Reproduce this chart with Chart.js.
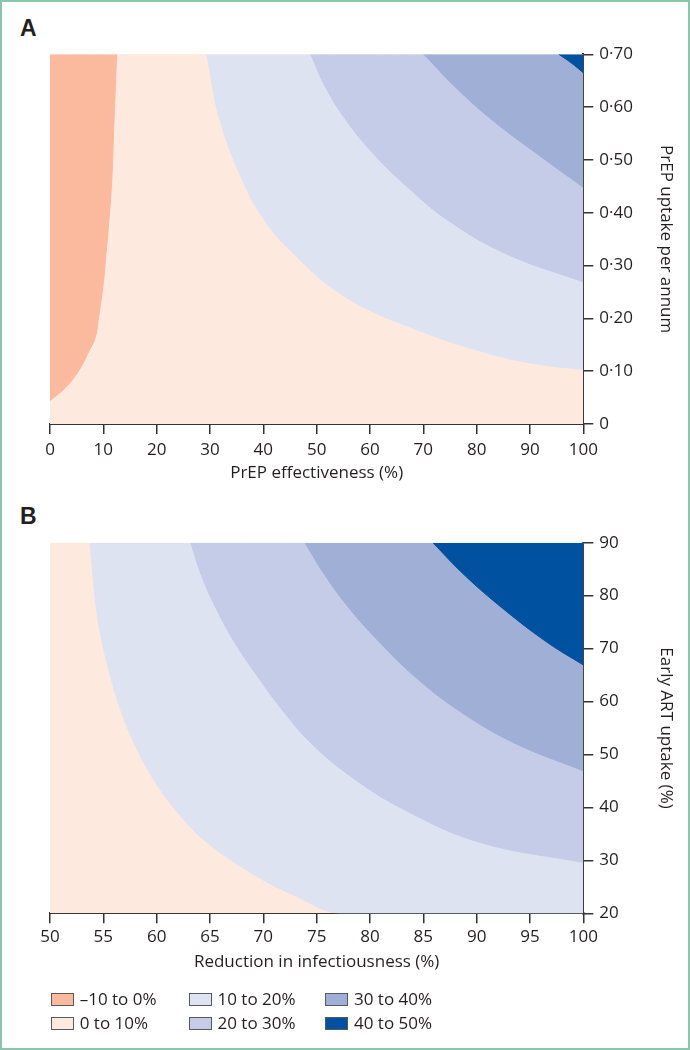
<!DOCTYPE html>
<html>
<head>
<meta charset="utf-8">
<script src="https://cdn.jsdelivr.net/npm/chart.js@4.4.1/dist/chart.umd.min.js"></script>
<style>
  body { margin: 0; background: #fff; }
  #page { position: relative; width: 690px; height: 1050px; overflow: hidden; font-family: 'Open Sans', sans-serif; color: #231f20; }
  #frame { position: absolute; left: 0; top: 0; width: 690px; height: 1050px; box-sizing: border-box; border: 2px solid #8cc4ad; pointer-events: none; }
  canvas { position: absolute; left: 0; }
  .panel { position: absolute; left: 20px; font: bold 23px 'Liberation Sans', Arial, sans-serif; line-height: 23px; }
  .key { position: absolute; width: 21px; height: 11px; border: 1px solid #58595b; }
  .keytxt { position: absolute; font-size: 17px; line-height: 20px; white-space: nowrap; }
</style>
</head>
<body>
<div id="page">
  <div class="panel" style="top:17px">A</div>
  <canvas id="chartA" width="690" height="500" style="top:0"></canvas>
  <div class="panel" style="top:505px">B</div>
  <canvas id="chartB" width="690" height="500" style="top:488px"></canvas>
  <div id="legend"></div>
  <div id="frame"></div>
</div>
<script>
// Panel A: PrEP effectiveness (%) vs PrEP uptake per annum
const aXTicks = [0, 10, 20, 30, 40, 50, 60, 70, 80, 90, 100];
const aYTicks = [0, 0.1, 0.2, 0.3, 0.4, 0.5, 0.6, 0.7];
const aYTickLabels = ['0', '0·10', '0·20', '0·30', '0·40', '0·50', '0·60', '0·70'];
// contour edges as [effectiveness, uptake]; region above/right of each edge is the next band
const aEdgeNeg = [[0, 0.044], [2.9, 0.069], [5.4, 0.101], [7.0, 0.132], [8.5, 0.164], [9.0, 0.195],
                  [9.9, 0.259], [10.5, 0.322], [11.5, 0.448], [12.0, 0.574], [12.5, 0.70]];
const aEdge10 = [[29.4, 0.70], [31.9, 0.574], [36.7, 0.448], [40.3, 0.385], [45, 0.329], [55.3, 0.241],
                 [69.7, 0.175], [82.8, 0.132], [91, 0.114], [100, 0.103]];
const aEdge20 = [[48.9, 0.70], [51.7, 0.637], [55.6, 0.574], [60.7, 0.511], [67.1, 0.448], [74.7, 0.385],
                 [85.6, 0.322], [100, 0.269]];
const aEdge30 = [[70.1, 0.70], [76.1, 0.637], [83.1, 0.574], [91.4, 0.511], [100, 0.448]];
const aEdge40 = [[95.4, 0.70], [97.7, 0.684], [100, 0.665]];

// Panel B: Reduction in infectiousness (%) vs Early ART uptake (%)
const bXTicks = [50, 55, 60, 65, 70, 75, 80, 85, 90, 95, 100];
const bYTicks = [20, 30, 40, 50, 60, 70, 80, 90];
const bEdge10 = [[53.75, 90], [54.35, 77.5], [54.9, 71.2], [55.65, 64.9], [56.6, 58.6], [57.85, 52.3], [59.5, 46],
                 [61.7, 39.7], [64.7, 33.4], [69.3, 27.1], [73.0, 23.3], [77.2, 20], [100, 20]];
const bEdge20 = [[63.2, 90], [64.2, 83.8], [65.6, 77.5], [67.3, 71.2], [69.4, 64.9], [71.7, 58.6], [74.4, 52.3],
                 [78.1, 46], [83.1, 39.7], [90.3, 33.4], [100, 29.6]];
const bEdge30 = [[73.9, 90], [75.8, 83.8], [78.1, 77.5], [80.9, 71.2], [84.1, 64.9], [88.1, 58.6], [93.4, 52.3],
                 [100, 46.9]];
const bEdge40 = [[85.9, 90], [88.9, 83.8], [92.5, 77.5], [96.6, 71.2], [100, 66.9]];

const bands = ['–10 to 0%', '0 to 10%', '10 to 20%', '20 to 30%', '30 to 40%', '40 to 50%'];
const bandColors = ['#fbb99e', '#fee9de', '#dee3f2', '#c5cce7', '#a0afd6', '#0052a0'];

const ink = '#231f20';
const axisFont = { family: "'Open Sans', sans-serif", size: 17 };

// one filled band; higher "order" is painted first (underneath)
function band(edge, idx, fill, order) {
  return {
    data: edge.map(p => ({ x: p[0], y: p[1] })),
    backgroundColor: bandColors[idx],
    borderColor: bandColors[idx],
    borderWidth: 1,
    pointRadius: 0,
    fill: fill,
    order: order,
    tension: 0.4,
    clip: 0
  };
}

function contourChart(id, c) {
  const xMin = c.xTicks[0], xMax = c.xTicks[c.xTicks.length - 1];
  // whole plot in the 0-10% colour first
  const datasets = [band([[xMin, c.yMax], [xMax, c.yMax]], 1, 'start', 20)];
  c.edges.forEach(e => datasets.push(band(e[0], e[1], 'end', 10 - e[1])));
  return new Chart(document.getElementById(id), {
    type: 'line',
    data: { datasets },
    options: {
      responsive: false,
      animation: false,
      layout: { padding: { left: 50, top: c.padTop, right: 0, bottom: 0 } },
      plugins: { legend: { display: false }, tooltip: { enabled: false } },
      scales: {
        x: {
          type: 'linear', min: xMin, max: xMax,
          afterBuildTicks: s => { s.ticks = c.xTicks.map(v => ({ value: v })); },
          afterFit: s => { s.height = c.axisH; },
          ticks: { font: axisFont, color: ink, padding: c.xPad, maxRotation: 0, autoSkip: false },
          grid: { drawOnChartArea: false, tickLength: 10, color: '#333', lineWidth: 1.5 },
          border: { color: '#333', width: 2 },
          title: { display: true, text: c.xTitle, font: axisFont, color: ink, padding: { top: 0, bottom: c.titlePad } }
        },
        y: {
          type: 'linear', position: 'right', min: c.yTicks[0], max: c.yMax,
          afterBuildTicks: s => { s.ticks = c.yTicks.map(v => ({ value: v })); },
          afterFit: s => { s.width = 106.7; },
          ticks: { font: axisFont, color: ink, padding: 6, autoSkip: false,
                   callback: (v, i) => c.yLabels[i] },
          grid: { drawOnChartArea: false, tickLength: 10, color: '#333', lineWidth: 1.5 },
          border: { color: '#333', width: 2 },
          title: { display: true, text: c.yTitle, font: axisFont, color: ink, padding: { top: 14, bottom: 0 } }
        }
      }
    }
  });
}

contourChart('chartA', {
  xTicks: aXTicks, yTicks: aYTicks, yLabels: aYTickLabels, yMax: 0.7,
  edges: [[aEdgeNeg, 0], [aEdge10, 2], [aEdge20, 3], [aEdge30, 4], [aEdge40, 5]],
  xTitle: 'PrEP effectiveness (%)', yTitle: 'PrEP uptake per annum',
  padTop: 54.3, axisH: 76, xPad: 6, titlePad: 17
});

contourChart('chartB', {
  xTicks: bXTicks, yTicks: bYTicks, yLabels: bYTicks.map(String), yMax: 90,
  edges: [[bEdge10, 2], [bEdge20, 3], [bEdge30, 4], [bEdge40, 5]],
  xTitle: 'Reduction in infectiousness (%)', yTitle: 'Early ART uptake (%)',
  padTop: 54.7, axisH: 74.7, xPad: 4, titlePad: 15.7
});

// legend: three columns, two rows
const legend = document.getElementById('legend');
const colX = [50.7, 188.5, 325];
const rowY = [993.3, 1017.3];
bands.forEach((label, i) => {
  const x = colX[Math.floor(i / 2)], y = rowY[i % 2];
  const box = document.createElement('div');
  box.className = 'key';
  box.style.left = x + 'px';
  box.style.top = y + 'px';
  box.style.background = bandColors[i];
  legend.appendChild(box);
  const txt = document.createElement('div');
  txt.className = 'keytxt';
  txt.style.left = (x + 29) + 'px';
  txt.style.top = (y - 4) + 'px';
  txt.textContent = label;
  legend.appendChild(txt);
});
</script>
</body>
</html>
